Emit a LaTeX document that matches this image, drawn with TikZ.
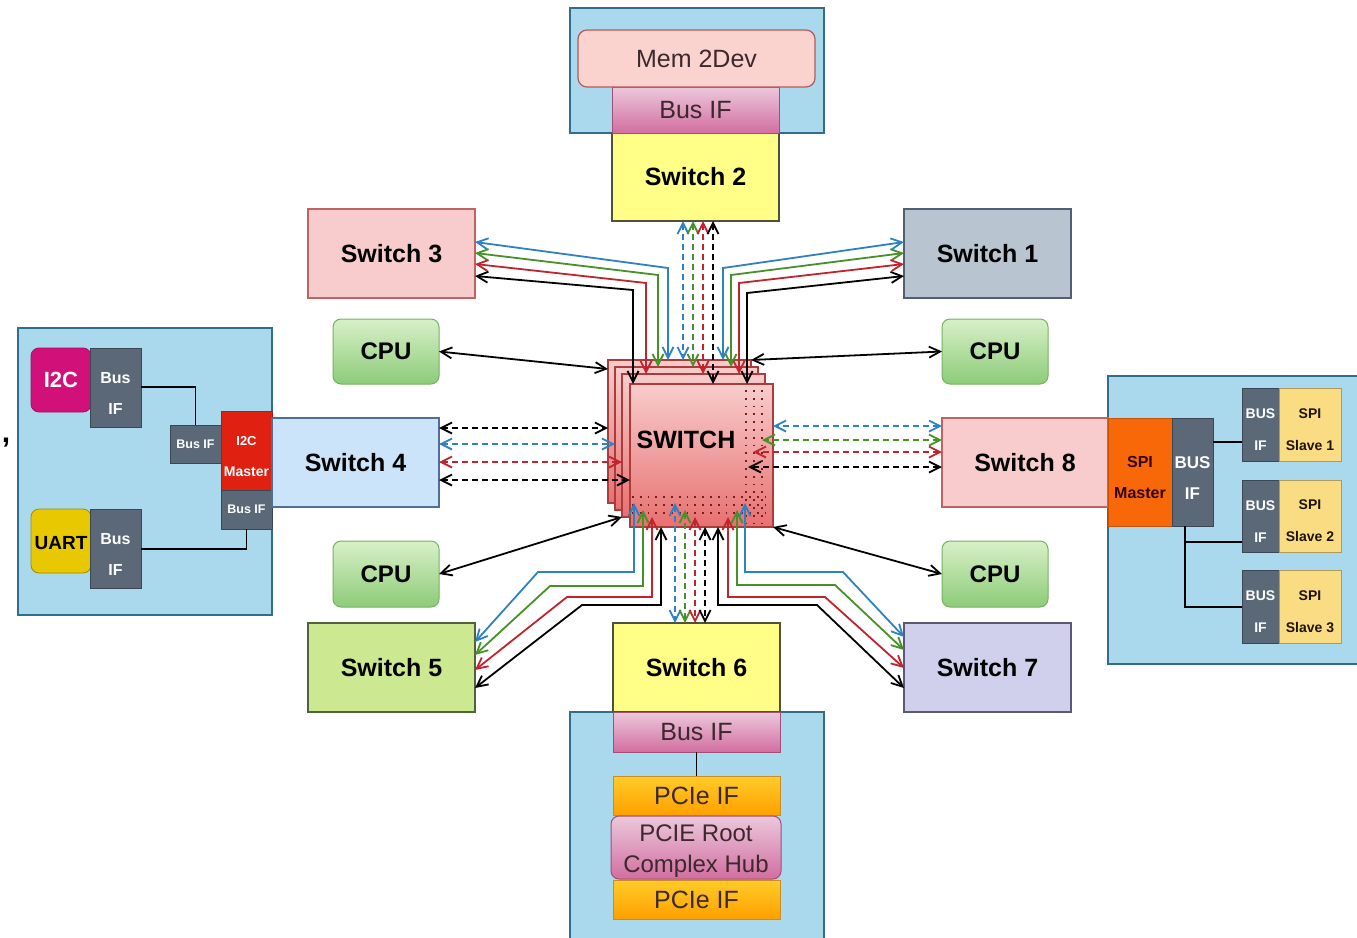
\documentclass[tikz,border=0pt]{standalone}
\usepackage{fontspec}
\setmainfont{Liberation Sans}
\usetikzlibrary{arrows.meta}
\newcommand\fs[2]{\fontsize{#1}{#2}\selectfont}
\newcommand\dn[1]{\rule{0pt}{#1}}
\newcommand\mybox[7]{\node[#6, minimum width={#4-#2}, minimum height={#5-#3}] (#1) at ({(#2+#4)/2},{(#3+#5)/2}) {#7};}
\definecolor{cblue}{RGB}{45,130,195}
\definecolor{cgreen}{RGB}{70,145,40}
\definecolor{cred}{RGB}{195,35,45}
\definecolor{panelc}{RGB}{170,216,236}
\definecolor{paneld}{RGB}{50,110,140}
\definecolor{grayif}{RGB}{90,104,120}
\definecolor{grayd}{RGB}{60,70,85}
\definecolor{pinkf}{RGB}{248,204,204}
\definecolor{pinkd}{RGB}{190,100,100}
\definecolor{bluegf}{RGB}{184,196,208}
\definecolor{bluegd}{RGB}{80,96,112}
\definecolor{lbluef}{RGB}{204,228,250}
\definecolor{lblued}{RGB}{80,110,150}
\definecolor{limef}{RGB}{204,232,144}
\definecolor{limed}{RGB}{80,100,60}
\definecolor{lavf}{RGB}{208,208,236}
\definecolor{lavd}{RGB}{90,90,120}
\definecolor{yelf}{RGB}{255,255,136}
\definecolor{yeld}{RGB}{80,80,60}
\definecolor{cput}{RGB}{216,240,200}
\definecolor{cpub}{RGB}{140,204,120}
\definecolor{cpud}{RGB}{120,176,100}
\definecolor{bift}{RGB}{236,200,220}
\definecolor{bifb}{RGB}{210,110,160}
\definecolor{bifd}{RGB}{160,80,120}
\definecolor{pcit}{RGB}{255,204,40}
\definecolor{pcib}{RGB}{255,160,0}
\definecolor{pcid}{RGB}{200,140,40}
\definecolor{memf}{RGB}{250,210,206}
\definecolor{memd}{RGB}{180,90,90}
\definecolor{swt}{RGB}{248,204,204}
\definecolor{swb}{RGB}{232,112,112}
\definecolor{swd}{RGB}{170,60,60}
\definecolor{dotc}{RGB}{120,30,30}
\definecolor{txtd}{RGB}{60,40,45}
\definecolor{magf}{RGB}{210,16,122}
\definecolor{redm}{RGB}{224,32,16}
\definecolor{uartf}{RGB}{232,200,0}
\definecolor{spif}{RGB}{248,104,8}
\definecolor{slavef}{RGB}{250,220,130}
\tikzset{
  base/.style={inner sep=0pt, outer sep=0pt, align=center},
  swbox/.style={base, draw, line width=1.2pt, font=\bfseries\fs{25}{30}},
  panel/.style={base, draw=paneld, fill=panelc, line width=1.2pt},
  cpubox/.style={base, draw=cpud, line width=1pt, rounded corners=8pt, top color=cput, bottom color=cpub, font=\bfseries\fs{24}{28}},
  bifbox/.style={base, draw=bifd, line width=1pt, top color=bift, bottom color=bifb, text=txtd, font=\fs{25}{30}},
  pcibox/.style={base, draw=pcid, line width=0.8pt, top color=pcit, bottom color=pcib, text=txtd, font=\fs{25}{30}},
  graybox/.style={base, draw=grayd, line width=0.8pt, fill=grayif, text=white, font=\bfseries\fs{16}{31}},
  slavebox/.style={base, fill=slavef, draw=slavef!70!black, line width=0.8pt, text=black!85!brown, font=\bfseries\fs{14}{32}},
  layer/.style={draw=swd, line width=1.5pt, top color=swt, bottom color=swb, inner sep=0pt, outer sep=0pt},
  ar/.style={line width=1.8pt, <->},
  dsh/.style={ar, dash pattern=on 6pt off 4pt},
  wire/.style={line width=1.4pt, black},
  dots/.style={dotc, line width=1.8pt, dash pattern=on 1.8pt off 6pt},
  >={Straight Barb[length=11pt,width=11pt]}
}
\begin{document}
\begin{tikzpicture}[x=1pt,y=-1pt]
\useasboundingbox (0,0) rectangle (1357,937);
\fill[white] (0,0) rectangle (1357,937);
\clip (0,0) rectangle (1357,937);

% stray comma
\node[base, font=\bfseries\fs{30}{30}] (comma) at (6,443) {,};

% ---------- top group ----------
\mybox{toppanel}{570}{8}{824}{133}{panel}{}
\mybox{s2}{612}{133}{779}{221}{swbox, draw=yeld, fill=yelf}{Switch 2}
\mybox{busT}{612}{87}{779}{133}{bifbox}{Bus IF}
\mybox{mem}{578}{30}{815}{87}{base, draw=memd, fill=memf, line width=1.2pt, rounded corners=9pt, text=txtd, font=\fs{25}{30}}{Mem 2Dev}

% ---------- switches and cpus ----------
\mybox{s3}{308}{209}{475}{298}{swbox, draw=pinkd, fill=pinkf}{Switch 3}
\mybox{s1}{904}{209}{1071}{298}{swbox, draw=bluegd, fill=bluegf}{Switch 1}
\mybox{cpu1}{333}{319}{439}{384}{cpubox}{CPU}
\mybox{cpu2}{942}{319}{1048}{384}{cpubox}{CPU}
\mybox{cpu3}{333}{541}{439}{607}{cpubox}{CPU}
\mybox{cpu4}{942}{541}{1048}{607}{cpubox}{CPU}

% ---------- left panel ----------
\mybox{leftpanel}{18}{328}{272}{615}{panel}{}
\mybox{i2c}{31}{348}{91}{412}{base, draw=magf!80!black, fill=magf, rounded corners=8pt, line width=0.8pt, text=white, font=\bfseries\fs{22}{26}}{I2C}
\mybox{bif1}{90}{348}{141}{427}{graybox}{\dn{23pt}Bus\\IF}
\mybox{bif2}{170}{425}{221}{463}{graybox, font=\bfseries\fs{12.5}{15}}{Bus IF}
\mybox{i2cm}{221}{411}{272}{490}{base, fill=redm, draw=redm!80!black, line width=0.8pt, text=white, font=\bfseries\fs{14}{31}}{\dn{22pt}{\fs{13}{31}I2C}\\Master}
\mybox{bif3}{221}{490}{272}{529}{graybox, font=\bfseries\fs{12.5}{15}}{Bus IF}
\mybox{uart}{31}{509}{91}{573}{base, draw=uartf!70!black, fill=uartf, rounded corners=8pt, line width=0.8pt, font=\bfseries\fs{19}{22}}{\dn{17pt}UART}
\mybox{bif4}{90}{509}{141}{588}{graybox}{\dn{23pt}Bus\\IF}
\draw[wire] (bif1.east |- 0,387) -| (bif2.north);
\draw[wire] (bif4.east |- 0,549) -| (bif3.south);
\mybox{s4}{272}{418}{439}{507}{swbox, draw=lblued, fill=lbluef}{Switch 4}

% ---------- right panel ----------
\mybox{rightpanel}{1108}{376}{1370}{664}{panel}{}
\mybox{s8}{942}{418}{1108}{507}{swbox, draw=pinkd, fill=pinkf}{Switch 8}
\mybox{spim}{1108}{418}{1172}{526}{base, fill=spif, draw=spif!80!black, line width=0.8pt, text=black!80!red, font=\bfseries\fs{16}{31}}{\dn{22pt}SPI\\Master}
\mybox{sbif}{1172}{418}{1213}{526}{graybox, font=\bfseries\fs{17}{31}}{\dn{23pt}BUS\\IF}
\mybox{sl1b}{1242}{388}{1279}{461}{graybox, font=\bfseries\fs{14}{32}}{\dn{20pt}BUS\\IF}
\mybox{sl1}{1279}{388}{1341}{461}{slavebox}{\dn{20pt}SPI\\Slave 1}
\mybox{sl2b}{1242}{480}{1279}{552}{graybox, font=\bfseries\fs{14}{32}}{\dn{20pt}BUS\\IF}
\mybox{sl2}{1279}{480}{1341}{552}{slavebox}{\dn{20pt}SPI\\Slave 2}
\mybox{sl3b}{1242}{570}{1279}{643}{graybox, font=\bfseries\fs{14}{32}}{\dn{20pt}BUS\\IF}
\mybox{sl3}{1279}{570}{1341}{643}{slavebox}{\dn{20pt}SPI\\Slave 3}
\draw[wire] (sbif.east |- 0,442) -- (sl1b.west |- 0,442);
\coordinate (tap) at (1185,542);
\draw[wire] (sbif.south -| tap) |- (sl3b.west |- 0,607);
\draw[wire] (tap) -- (sl2b.west |- tap);

% ---------- bottom group ----------
\mybox{s5}{308}{623}{475}{712}{swbox, draw=limed, fill=limef}{Switch 5}
\mybox{s7}{904}{623}{1071}{712}{swbox, draw=lavd, fill=lavf}{Switch 7}
\mybox{botpanel}{570}{712}{824}{950}{panel}{}
\mybox{s6}{613}{623}{780}{712}{swbox, draw=yeld, fill=yelf}{Switch 6}
\mybox{busB}{613}{712}{780}{752}{bifbox}{Bus IF}
\mybox{pcie1}{613}{776}{780}{815}{pcibox}{PCIe IF}
\mybox{pcie2}{613}{880}{780}{919}{pcibox}{PCIe IF}
\mybox{root}{611}{816}{781}{879}{bifbox, rounded corners=8pt, font=\fs{24}{31}}{\dn{24pt}PCIE Root\\Complex Hub}
\draw[wire] (busB.south) -- (pcie1.north);

% ---------- central switch ----------
\mybox{L1}{608}{360}{751}{503}{layer}{}
\mybox{L2}{615}{367}{758}{510}{layer}{}
\mybox{L3}{622}{374}{765}{517}{layer}{}
\mybox{L4}{630}{384}{773}{527}{layer}{}
\node[base, font=\bfseries\fs{25}{30}] (swtext) at (686,440) {SWITCH};
\foreach \xx in {746,754,762} \draw[dots] (\xx,390) -- (\xx,526);
\foreach \yy in {497,505,513} \draw[dots] (632,\yy) -- (770,\yy);

% ---------- connectors: top ----------
\draw[ar, cblue]  (s3.east |- 0,242) -- (668,268) -- (L1.north -| 668,0);
\draw[ar, cgreen] (s3.east |- 0,253) -- (658,275) -- (L2.north -| 658,0);
\draw[ar, cred]   (s3.east |- 0,264) -- (646,283) -- (L3.north -| 646,0);
\draw[ar, black]  (s3.east |- 0,276) -- (633,290) -- (L4.north -| 633,0);
\draw[ar, cblue]  (s1.west |- 0,242) -- (723,268) -- (L1.north -| 723,0);
\draw[ar, cgreen] (s1.west |- 0,253) -- (731,275) -- (L2.north -| 731,0);
\draw[ar, cred]   (s1.west |- 0,264) -- (739,283) -- (L3.north -| 739,0);
\draw[ar, black]  (s1.west |- 0,276) -- (747,293) -- (L4.north -| 747,0);
\draw[dsh, cblue]  (s2.south -| 683,0) -- (L1.north -| 683,0);
\draw[dsh, cgreen] (s2.south -| 693,0) -- (L2.north -| 693,0);
\draw[dsh, cred]   (s2.south -| 703,0) -- (L3.north -| 703,0);
\draw[dsh, black]  (s2.south -| 713,0) -- (L4.north -| 713,0);

% ---------- connectors: sides ----------
\draw[dsh, black] (s4.east |- 0,428) -- (L1.west |- 0,428);
\draw[dsh, cblue] (s4.east |- 0,444) -- (L2.west |- 0,444);
\draw[dsh, cred]  (s4.east |- 0,462) -- (L3.west |- 0,462);
\draw[dsh, black] (s4.east |- 0,480) -- (L4.west |- 0,480);
\draw[dsh, cblue]  (s8.west |- 0,426) -- (L4.east |- 0,426);
\draw[dsh, cgreen] (s8.west |- 0,440) -- (762,440);
\draw[dsh, cred]   (s8.west |- 0,452) -- (753,452);
\draw[dsh, black]  (s8.west |- 0,467) -- (748,467);

% ---------- connectors: cpus ----------
\draw[ar] (cpu1.east) -- (L1.west |- 0,369);
\draw[ar] (cpu2.west) -- (L1.north east);
\draw[ar] (cpu3.east) -- (L3.south west);
\draw[ar] (cpu4.west) -- (L4.south east);

% ---------- connectors: bottom ----------
\draw[ar, cblue]  (s5.east |- 0,642) -- (538,572) -- (634,572) -- (L1.south -| 634,0);
\draw[ar, cgreen] (s5.east |- 0,655) -- (550,586) -- (643,586) -- (L2.south -| 643,0);
\draw[ar, cred]   (s5.east |- 0,670) -- (567,597) -- (652,597) -- (L3.south -| 652,0);
\draw[ar, black]  (s5.east |- 0,688) -- (582,605) -- (661,605) -- (L4.south -| 661,0);
\draw[ar, cblue]  (s7.west |- 0,637) -- (843,572) -- (745,572) -- (L1.south -| 745,0);
\draw[ar, cgreen] (s7.west |- 0,650) -- (835,585) -- (737,585) -- (L2.south -| 737,0);
\draw[ar, cred]   (s7.west |- 0,668) -- (825,597) -- (728,597) -- (L3.south -| 728,0);
\draw[ar, black]  (s7.west |- 0,688) -- (817,605) -- (718,605) -- (L4.south -| 718,0);
\draw[dsh, cblue]  (L1.south -| 675,0) -- (s6.north -| 675,0);
\draw[dsh, cgreen] (L2.south -| 685,0) -- (s6.north -| 685,0);
\draw[dsh, cred]   (L3.south -| 695,0) -- (s6.north -| 695,0);
\draw[dsh, black]  (L4.south -| 705,0) -- (s6.north -| 705,0);
\end{tikzpicture}
\end{document}
